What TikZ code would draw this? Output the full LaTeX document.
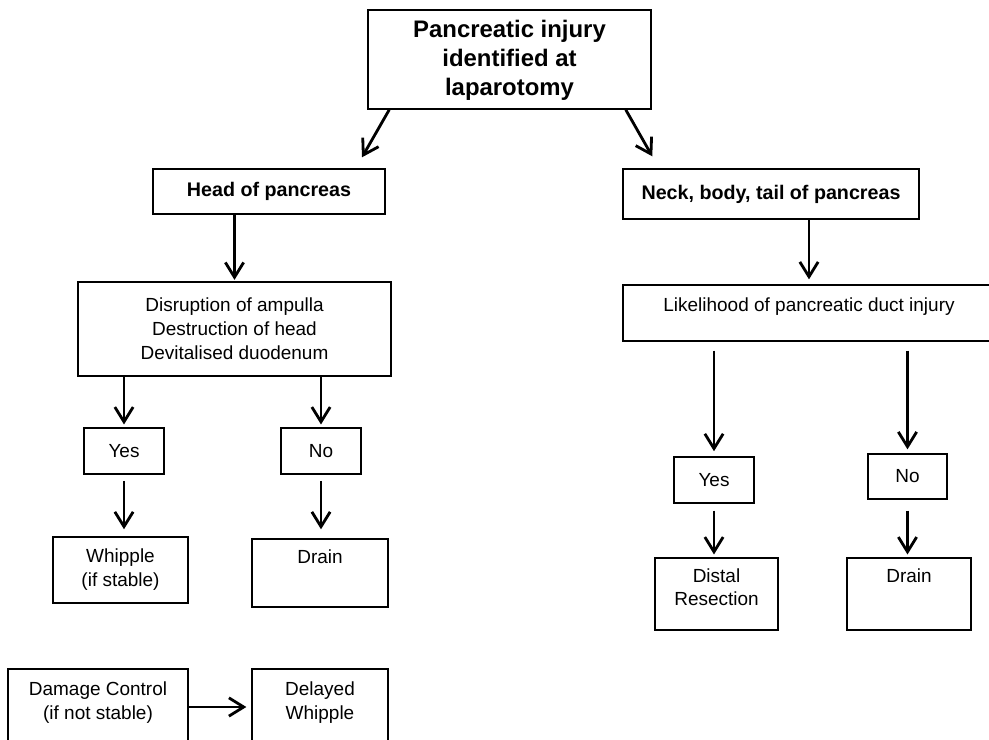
\documentclass[tikz,border=0pt]{standalone}
\usepackage{fontspec}
\setmainfont{Liberation Sans}
\usetikzlibrary{arrows.meta,positioning,calc}
\tikzstyle{box} = [draw, rectangle, line width=1pt, align=center]
\tikzstyle{arrow} = [line width=2pt, -{Straight Barb[length=10.5pt,width=13pt,line width=2pt]}]
\tikzstyle{bold} = [font=\fontsize{14}{17}\selectfont\bfseries]

\begin{document}
\begin{tikzpicture}[x=0.025cm, y=-0.025cm, font=\fontsize{13.5}{17}\selectfont]
\path[use as bounding box, fill=white] (0,0) rectangle (989,740);

% top level
\node[box, font=\fontsize{17}{20.6}\selectfont\bfseries, minimum width=7.075cm, minimum height=2.475cm, text depth=0.1cm] (injury) at (509.5,59.5) {Pancreatic injury\\identified at\\laparotomy};
\node[box, bold, minimum width=5.8cm, minimum height=1.125cm] (head) at (269,191.5) {Head of pancreas};
\node[box, bold, minimum width=7.4cm, minimum height=1.25cm] (neck) at (771,194) {Neck, body, tail of pancreas};

% head branch
\node[box, minimum width=7.825cm, minimum height=2.35cm] (signs) at (234.5,329) {Disruption of ampulla\\Destruction of head\\Devitalised duodenum};
\node[box, minimum width=2cm, minimum height=1.15cm] (yesL) at (124,451) {Yes};
\node[box, minimum width=2cm, minimum height=1.15cm] (noL) at (321,451) {No};
\node[box, minimum width=3.375cm, minimum height=1.65cm] (whipple) at (120.5,570) {Whipple\\(if stable)};
\node[box, minimum width=3.4cm, minimum height=1.7cm, label={[anchor=north, yshift=-0.15cm]north:Drain}] (drainL) at (320,573) {};
\node[box, minimum width=4.5cm, minimum height=1.9cm, label={[anchor=north, align=center, yshift=-0.22cm]north:Damage Control\\(if not stable)}] (damage) at (98,707) {};
\node[box, minimum width=3.4cm, minimum height=1.9cm, label={[anchor=north, align=center, yshift=-0.22cm]north:Delayed\\Whipple}] (delayed) at (320,707) {};

% neck / body / tail branch
\node[box, minimum width=9.3cm, minimum height=1.4cm, label={[anchor=north, yshift=-0.2cm]north:Likelihood of pancreatic duct injury}] (duct) at (809,313) {};
\node[box, minimum width=2cm, minimum height=1.15cm] (yesR) at (714,480) {Yes};
\node[box, minimum width=1.975cm, minimum height=1.125cm] (noR) at (907.5,476.5) {No};
\node[box, minimum width=3.075cm, minimum height=1.8cm, label={[anchor=north, align=center, yshift=-0.15cm]north:Distal\\Resection}] (distal) at (716.5,594) {};
\node[box, minimum width=3.1cm, minimum height=1.8cm, label={[anchor=north, yshift=-0.15cm]north:Drain}] (drainR) at (909,594) {};

% arrows
\draw[arrow] ($(injury.south west)+(22,0)$) -- ($(head.north)+(93,-11)$);
\draw[arrow] ($(injury.south east)+(-26,0)$) -- ($(neck.north west)+(30,-12)$);
\draw[arrow, shorten >=1pt] (signs.north |- head.south) -- (signs.north);
\draw[arrow, shorten >=3.5pt] (duct.north |- neck.south) -- (duct.north);

\draw[arrow, shorten >=2pt] (yesL.north |- signs.south) -- (yesL.north);
\draw[arrow, shorten >=2pt] (noL.north |- signs.south) -- (noL.north);
\draw[arrow, shorten <=4.3pt, shorten >=5pt] (yesL.south) -- (yesL.south |- whipple.north);
\draw[arrow, shorten <=4.3pt, shorten >=6.4pt] (noL.south) -- (noL.south |- drainL.north);
\draw[arrow, shorten >=3.5pt] (damage.east) -- (delayed.west);

\draw[arrow, shorten <=6.4pt, shorten >=3.6pt] (yesR.north |- duct.south) -- (yesR.north);
\draw[arrow, shorten <=6.4pt, shorten >=2.8pt] (noR.north |- duct.south) -- (noR.north);
\draw[arrow, shorten <=5pt, shorten >=2pt] (yesR.south) -- (yesR.south |- distal.north);
\draw[arrow, shorten <=7.8pt, shorten >=2pt] (noR.south) -- (noR.south |- drainR.north);
\end{tikzpicture}
\end{document}
